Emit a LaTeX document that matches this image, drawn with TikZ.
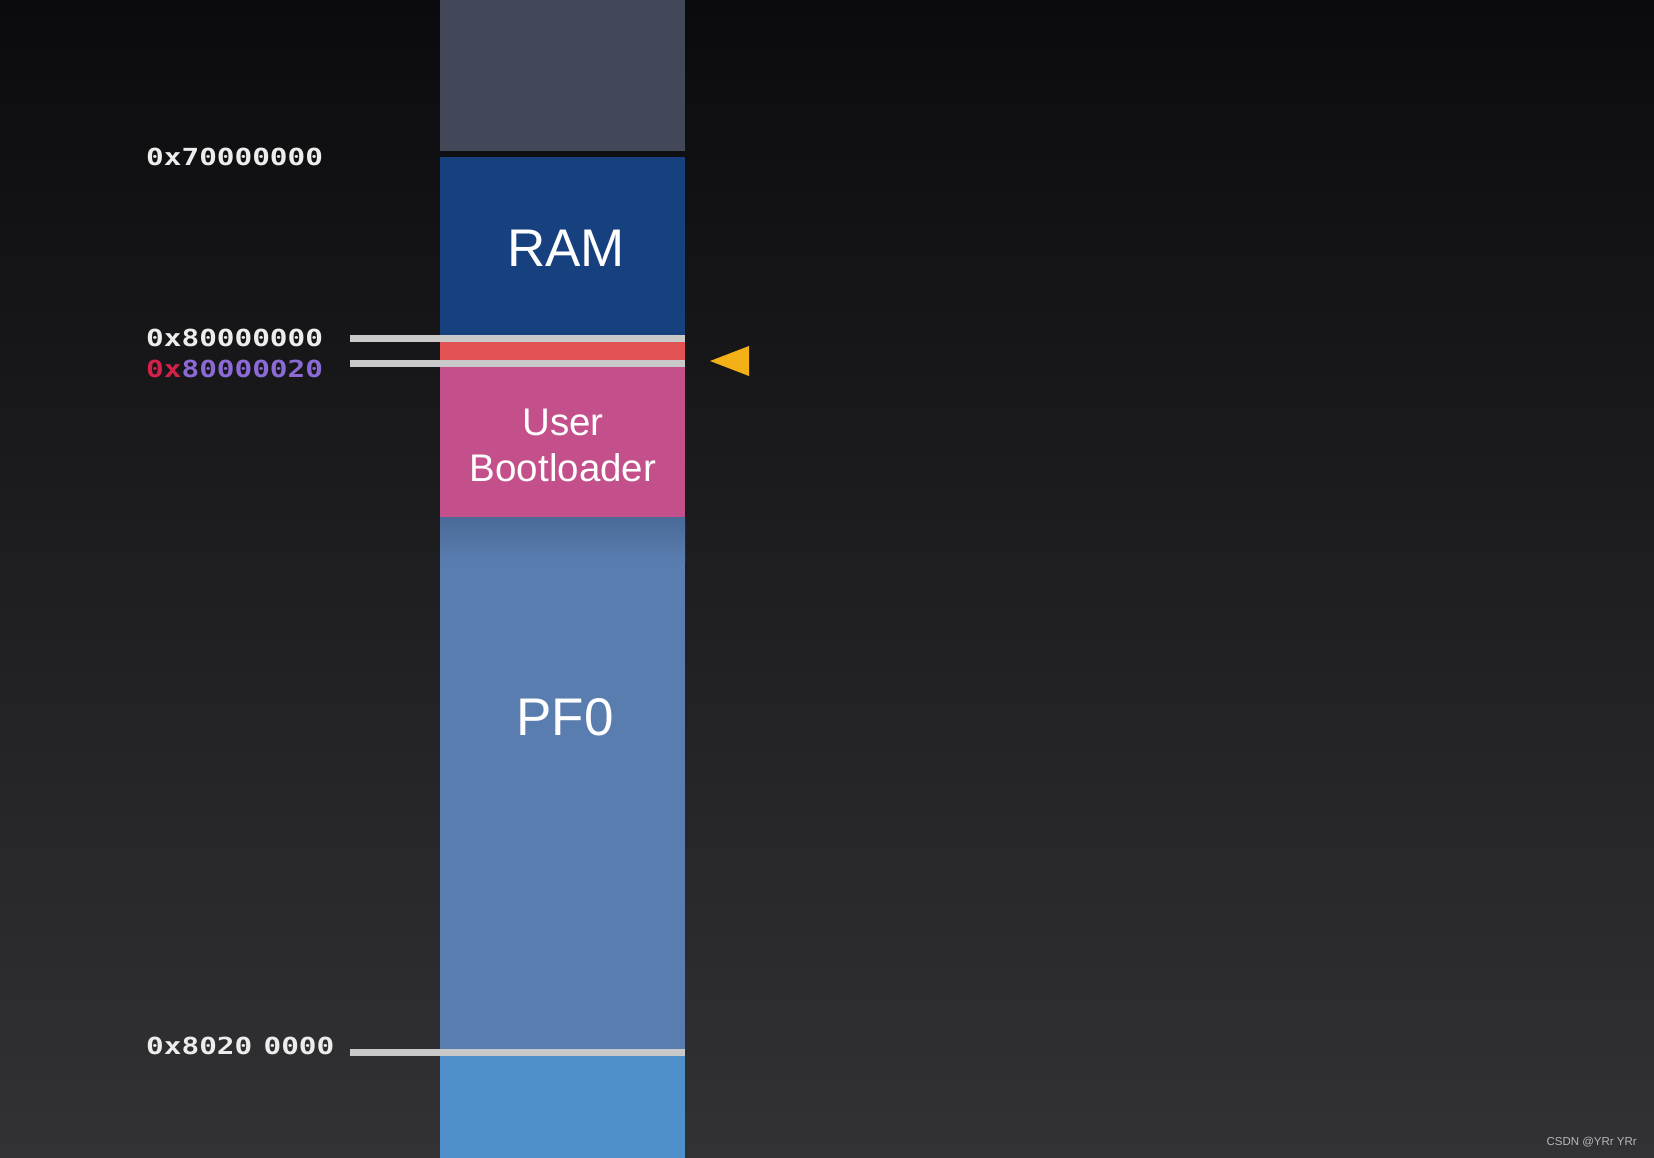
\documentclass[tikz,border=0pt]{standalone}
\usepackage{fontspec}
\setmainfont{Liberation Sans}
\newfontfamily\addrfont[FakeStretch=1.25]{DejaVu Sans Mono}
\usepackage{tikz}
\usetikzlibrary{positioning}
\definecolor{BgTop}{HTML}{0B0B0D}
\definecolor{BgBottom}{HTML}{323235}
\definecolor{Slate}{HTML}{434859}
\definecolor{RamBlue}{HTML}{17407F}
\definecolor{BandRed}{HTML}{E25252}
\definecolor{BootPink}{HTML}{C3508A}
\definecolor{PfBlue}{HTML}{5A7DB0}
\definecolor{PfShade}{HTML}{4A6A98}
\definecolor{LowBlue}{HTML}{4F8FCA}
\definecolor{MarkGray}{HTML}{C9C9C9}
\definecolor{Amber}{HTML}{F4B017}
\definecolor{AddrWhite}{HTML}{EDEDED}
\definecolor{AddrRed}{HTML}{D6204A}
\definecolor{AddrPurple}{HTML}{8C6AD6}
\definecolor{WmGray}{HTML}{B8B8B8}

\begin{document}
\begin{tikzpicture}[
    x=1pt,y=-1pt,
    block/.style={minimum width=245pt,inner sep=0pt,outer sep=0pt},
    blocktext/.style={text=white,font=\fontsize{53}{60}\selectfont},
    addr/.style={anchor=base west,inner sep=0pt,text=AddrWhite,
      font=\addrfont\bfseries\fontsize{23.5}{24}\selectfont},
    marker/.style={draw=MarkGray,line width=7pt}
  ]
  % background
  \shade[top color=BgTop,bottom color=BgBottom] (0,0) rectangle (1654,1158);
  \useasboundingbox (0,0) rectangle (1654,1158);

  % memory column
  \node[block,fill=Slate,minimum height=151pt] (top) at (562.5,75.5) {};
  \node[block,fill=RamBlue,minimum height=181pt] (ram) at (562.5,247.5) {};
  \node[block,fill=BandRed,minimum height=25pt] (band) at (562.5,350.5) {};
  \node[block,fill=BootPink,minimum height=154pt] (boot) at (562.5,440) {};
  \node[block,fill=PfBlue,minimum height=535pt] (pf0) at (562.5,784.5) {};
  \shade[top color=PfShade,bottom color=PfBlue]
    (pf0.north west) rectangle ([yshift=-45pt]pf0.north east);
  \node[block,fill=LowBlue,minimum height=106pt] (low) at (562.5,1105) {};

  % block labels
  \node[blocktext] (ramlbl) at (566,248) {RAM};
  \node[blocktext,align=center,font=\fontsize{38.5}{46}\selectfont]
    (bootlbl) at (563,445) {User\\Bootloader};
  \node[blocktext] (pf0lbl) at (565,717) {PF0};

  % address markers
  \coordinate (m0) at (350,338);
  \coordinate (m1) at (350,363);
  \coordinate (m2) at (350,1052);
  \draw[marker] (m0) -- (m0 -| band.east);
  \draw[marker] (m1) -- (m1 -| band.east);
  \draw[marker] (m2) -- (m2 -| low.east);

  % addresses
  \node[addr] (a70) at (146,165.5) {0x70000000};
  \node[addr] (a80) at (146,346) {0x80000000};
  \node[addr] (a8020) at (146,377)
    {\textcolor{AddrRed}{0x}\textcolor{AddrPurple}{80000020}};
  \node[addr] (a802) at (146,1054.5) {0x8020\hspace{11.3pt}0000};

  % pointer
  \fill[Amber] (710,361) -- (749,346) -- (749,376) -- cycle;

  \node[anchor=east,inner sep=0pt,text=WmGray,font=\fontsize{11.5}{12}\selectfont]
    (wm) at (1637,1142) {CSDN @YRr YRr};
\end{tikzpicture}
\end{document}
